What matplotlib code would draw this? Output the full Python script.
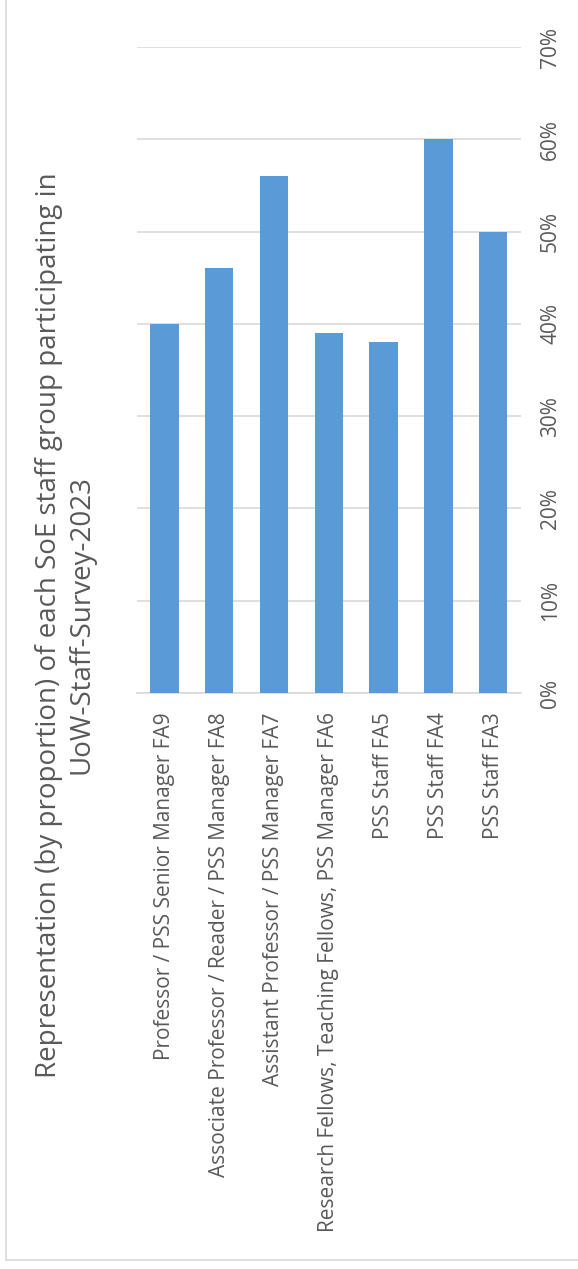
import matplotlib.pyplot as plt
import matplotlib.ticker as mtick
from matplotlib.lines import Line2D

# Data
categories = ['Professor / PSS Senior Manager FA9',
              'Associate Professor / Reader / PSS Manager FA8',
              'Assistant Professor / PSS Manager FA7',
              'Research Fellows, Teaching Fellows, PSS Manager FA6',
              'PSS Staff FA5',
              'PSS Staff FA4',
              'PSS Staff FA3']
proportions = [0.40, 0.46, 0.56, 0.39, 0.38, 0.60, 0.50]
y_ticks = [0, 0.1, 0.2, 0.3, 0.4, 0.5, 0.6, 0.7]
title = 'Representation (by proportion) of each SoE staff group participating in\nUoW-Staff-Survey-2023'

plt.rcParams['font.family'] = ['Open Sans', 'DejaVu Sans']
text_col = '#595959'
W, H = 578, 1269

fig = plt.figure(figsize=(W / 100, H / 100), dpi=100)
ax = fig.add_axes([137 / W, 1 - 693 / H, (520.6 - 137) / W, (693 - 47) / H])

x = range(len(categories))
ax.bar(x, proportions, width=0.52, color='#5B9BD5', zorder=3)

ax.set_xlim(-0.5, len(categories) - 0.5)
ax.set_ylim(0, 0.7)
ax.set_yticks(y_ticks)
ax.yaxis.set_major_formatter(mtick.PercentFormatter(1.0, decimals=0))
ax.yaxis.tick_right()
ax.grid(axis='y', color='#D9D9D9', linewidth=1.2, zorder=0)
for s in ['top', 'right', 'left']:
    ax.spines[s].set_visible(False)
ax.spines['bottom'].set_color('#D9D9D9')
ax.spines['bottom'].set_linewidth(1.2)

ax.set_xticks(list(x))
ax.set_xticklabels(categories, rotation=90, fontsize=15, color=text_col,
                   ha='center', va='top')
ax.tick_params(axis='x', length=0, pad=14)
ax.tick_params(axis='y', length=0, pad=14, labelsize=15, labelcolor=text_col,
               labelrotation=90)
for lab in ax.get_yticklabels():
    lab.set_va('center')

fig.text(65 / W, 1 - 625 / H, title, rotation=90, ha='center', va='center',
         fontsize=20, color=text_col, multialignment='center')

# chart frame (left and bottom edges visible)
fig.add_artist(Line2D([6 / W, 6 / W], [1 - 1260 / H, 1], color='#D9D9D9', lw=1.2,
                      transform=fig.transFigure))
fig.add_artist(Line2D([6 / W, 1], [1 - 1260 / H, 1 - 1260 / H], color='#D9D9D9', lw=1.2,
                      transform=fig.transFigure))

fig.savefig('out.png', dpi=100)
